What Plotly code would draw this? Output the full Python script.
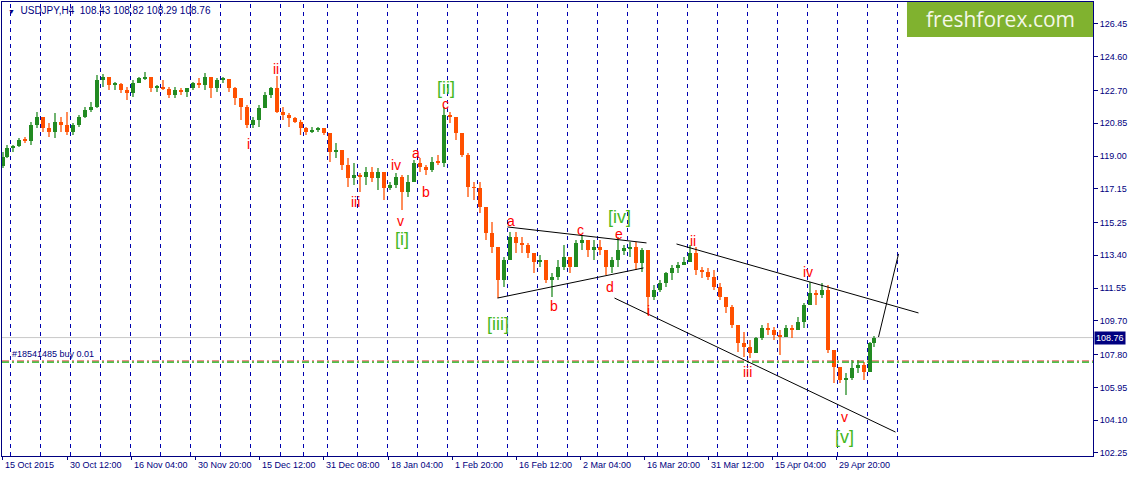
import pandas as pd
import plotly.graph_objects as go

# --- chart data (USDJPY H4, one candle per trading day) ---
SYMBOL = "USDJPY,H4"
LAST_OHLC = [108.43, 108.82, 108.29, 108.76]
ORDER_TEXT = "#18541485 buy 0.01"
ORDER_PRICE = 107.38
ORDER_PRICE_RED = 107.44

FIRST_BAR = "2015-10-15 16:00"
LAST_BAR = "2016-05-10 04:00"
FUTURE_END = "2016-05-20 20:00"
HOLIDAYS = ["2015-12-25", "2016-01-01"]
MISSING_BARS = ["2015-12-24 20:00"]

first_open = 118.45
day_high = [
    119.23, 119.62, 119.62, 120.02, 120.08, 120.92, 121.49, 121.20, 120.87, 121.43, 121.20, 121.49,
    120.87, 121.32, 121.77, 122.05, 123.57, 123.63, 123.46, 123.18, 123.12, 122.90, 123.29, 123.46,
    123.74, 123.46, 123.01, 123.29, 122.90, 122.90, 122.84, 122.84, 123.18,
    123.40, 123.69, 123.46, 123.40, 123.46, 123.29, 122.90, 122.28, 121.88, 121.20, 121.88, 122.61,
    122.90, 123.52, 121.77, 121.43, 121.20, 121.04, 120.64, 120.64, 120.64, 120.58,
    120.19, 119.74, 119.06, 118.89, 118.61, 118.04, 118.38, 118.38, 118.33, 117.76, 117.54, 118.04,
    117.93, 117.93, 118.78, 118.89, 118.50, 118.95, 119.06, 121.77,
    121.49, 121.20, 120.08, 119.17, 117.54, 117.54, 115.79, 115.28, 113.59, 113.31, 114.72, 114.72,
    114.44, 114.10, 113.42, 113.42, 112.74, 112.40, 113.14, 113.98, 113.31,
    114.27, 114.55, 114.27, 114.27, 114.27, 113.53, 113.31, 114.44, 113.98, 114.15, 114.15, 113.81,
    113.14, 111.73, 112.01, 112.46, 112.86, 113.02, 113.31, 113.98, 113.87, 112.74, 112.69,
    112.57, 111.84, 111.05, 110.60, 109.47, 109.08, 108.62, 108.79, 109.47, 109.58, 109.36, 109.19,
    109.47, 109.47, 109.92, 110.71, 111.90, 111.45, 111.84, 111.73, 107.89,
    107.10, 106.76, 107.50, 107.50, 107.38, 108.51, 108.85,
]
day_low = [
    118.33, 118.89, 119.23, 119.51, 119.74, 119.62, 120.58, 120.36, 120.08, 120.02, 120.36, 120.19,
    120.19, 120.64, 121.15, 121.49, 121.71, 122.90, 122.73, 122.73, 122.56, 122.16, 122.33, 123.12,
    123.29, 122.61, 122.61, 122.73, 122.28, 122.28, 122.45, 122.33, 122.73,
    122.84, 122.73, 122.28, 122.61, 123.12, 122.61, 121.88, 121.04, 120.58, 120.58, 120.64, 121.71,
    122.28, 121.43, 121.04, 120.64, 120.87, 120.19, 120.19, 120.30, 120.36, 120.19,
    118.67, 118.89, 118.21, 117.25, 117.37, 116.97, 117.37, 117.54, 117.09, 116.52, 117.09, 117.20,
    115.96, 116.69, 117.54, 118.10, 117.93, 118.10, 118.50, 118.38,
    120.87, 119.91, 118.95, 116.69, 116.52, 115.79, 114.27, 113.53, 110.99, 111.61, 113.53, 113.53,
    113.53, 113.25, 112.40, 112.74, 111.84, 111.05, 112.01, 112.57, 112.40,
    112.86, 113.70, 113.31, 113.14, 113.42, 112.29, 112.40, 112.74, 113.42, 113.31, 112.57, 112.46,
    110.04, 110.88, 111.33, 111.61, 112.01, 112.40, 112.86, 113.14, 112.29, 112.12, 112.01,
    111.45, 110.88, 110.15, 109.30, 107.95, 107.67, 107.61, 107.95, 108.62, 108.91, 108.62, 107.78,
    108.79, 108.74, 109.19, 109.30, 110.71, 110.60, 110.99, 107.89, 106.20,
    106.20, 105.52, 106.37, 106.76, 106.37, 107.21, 108.23,
]
day_close = [
    118.95, 119.46, 119.57, 119.91, 119.85, 120.75, 121.20, 120.58, 120.36, 120.92, 120.75, 120.36,
    120.75, 121.20, 121.60, 121.77, 123.29, 123.46, 123.01, 123.07, 122.73, 122.56, 123.12, 123.40,
    123.46, 122.84, 122.90, 122.80, 122.45, 122.73, 122.61, 122.84, 123.12,
    123.01, 123.46, 122.84, 123.29, 123.35, 122.84, 122.28, 121.77, 120.75, 121.04, 121.71, 122.45,
    122.84, 121.49, 121.32, 121.15, 120.92, 120.58, 120.36, 120.47, 120.58, 120.30,
    119.23, 119.34, 118.50, 117.76, 117.93, 117.82, 118.10, 117.76, 118.10, 117.20, 117.37, 117.82,
    116.97, 117.54, 118.61, 118.38, 118.21, 118.67, 118.61, 121.32,
    121.20, 120.30, 119.06, 117.25, 117.20, 116.13, 114.66, 113.87, 112.01, 113.14, 114.44, 114.10,
    113.98, 113.53, 113.02, 113.14, 112.01, 112.18, 112.74, 113.31, 112.74,
    114.10, 114.27, 113.70, 113.87, 113.70, 112.74, 113.14, 113.70, 113.81, 113.87, 112.97, 113.70,
    111.05, 111.45, 111.84, 112.40, 112.69, 112.86, 113.02, 113.53, 112.57, 112.46, 112.18,
    111.61, 111.05, 110.49, 109.47, 108.46, 108.23, 107.89, 108.74, 109.30, 109.19, 108.91, 108.79,
    109.30, 109.19, 109.64, 110.60, 111.28, 111.16, 111.45, 108.06, 107.10,
    106.37, 106.48, 107.05, 107.21, 106.82, 108.46, 108.76,
]

price_ticks = [126.45, 124.60, 122.70, 120.85, 119.00, 117.15, 115.25, 113.40,
               111.55, 109.70, 107.80, 105.95, 104.10, 102.25]

time_tick_labels = ["15 Oct 2015", "30 Oct 12:00", "16 Nov 04:00", "30 Nov 20:00", "15 Dec 12:00",
                    "31 Dec 08:00", "18 Jan 04:00", "1 Feb 20:00", "16 Feb 12:00", "2 Mar 04:00",
                    "16 Mar 20:00", "31 Mar 12:00", "15 Apr 04:00", "29 Apr 20:00"]
time_tick_times = ["2015-10-15 16:00", "2015-10-30 12:00", "2015-11-16 04:00", "2015-11-30 20:00",
                   "2015-12-15 12:00", "2015-12-31 08:00", "2016-01-18 04:00", "2016-02-01 20:00",
                   "2016-02-16 12:00", "2016-03-02 04:00", "2016-03-16 20:00", "2016-03-31 12:00",
                   "2016-04-15 04:00", "2016-04-29 20:00"]

# minor wave labels (red)
minor_text = ["i", "ii", "iii", "iv", "v", "a", "b", "c", "a", "b", "c", "d", "e",
              "i", "ii", "iii", "iv", "v"]
minor_time = ["2015-12-11 16:00", "2015-12-18 04:00", "2016-01-08 16:00", "2016-01-19 08:00",
              "2016-01-20 04:00", "2016-01-22 16:00", "2016-01-26 08:00", "2016-01-29 16:00",
              "2016-02-15 12:00", "2016-02-24 16:00", "2016-03-02 04:00", "2016-03-09 00:00",
              "2016-03-10 12:00", "2016-03-17 12:00", "2016-03-28 20:00", "2016-04-11 00:00",
              "2016-04-25 00:00", "2016-05-03 04:00"]
minor_price = [119.68, 123.91, 116.41, 118.50, 115.34, 119.17, 116.97, 121.94,
               115.34, 110.54, 114.83, 111.61, 114.60, 110.26, 114.21, 106.82, 112.46, 104.28]

# major wave labels (green)
major_text = ["[i]", "[ii]", "[iii]", "[iv]", "[v]"]
major_time = ["2016-01-20 08:00", "2016-01-29 16:00", "2016-02-11 08:00", "2016-03-10 16:00",
              "2016-05-03 04:00"]
major_price = [114.32, 122.84, 109.53, 115.56, 103.15]

# hand drawn trend lines: start time/price, end time/price
trend_t0 = ["2016-02-15 00:00", "2016-02-11 08:00", "2016-03-24 04:00", "2016-03-09 20:00", "2016-05-10 20:00"]
trend_p0 = [115.00, 110.99, 114.04, 110.99, 108.79]
trend_t1 = ["2016-03-17 04:00", "2016-03-16 16:00", "2016-05-19 12:00", "2016-05-13 16:00", "2016-05-16 04:00"]
trend_p1 = [114.10, 112.69, 110.15, 103.43, 113.48]

UP = "#228B22"
DOWN = "#FF5000"
NAVY = "#000080"
FONT = "Liberation Sans"


def h4_bars(start, end):
	days = pd.bdate_range(start[:10], end[:10])
	days = days[~days.isin(pd.to_datetime(HOLIDAYS))]
	skip = set(pd.to_datetime(MISSING_BARS))
	bars = [d + pd.Timedelta(hours=h) for d in days for h in range(0, 24, 4)]
	return [b for b in bars if pd.Timestamp(start) <= b <= pd.Timestamp(end) and b not in skip]


bars = h4_bars(FIRST_BAR, FUTURE_END)
pos = {b: i for i, b in enumerate(bars)}
data_bars = [b for b in bars if b <= pd.Timestamp(LAST_BAR)]


def bx(t):
	return pos[pd.Timestamp(t)]


# one candle per trading day, centred on its H4 bars
dfb = pd.DataFrame({"t": data_bars, "i": range(len(data_bars))})
centers = dfb.groupby(dfb["t"].dt.date)["i"].mean().tolist()
assert len(centers) == len(day_close)

day_open = [first_open] + day_close[:-1]
hi = [max(h, o, c) for h, o, c in zip(day_high, day_open, day_close)]
lo = [min(l, o, c) for l, o, c in zip(day_low, day_open, day_close)]
up = [c >= o for o, c in zip(day_open, day_close)]

fig = go.Figure()

for flag, col in [(True, UP), (False, DOWN)]:
	wx, wy = [], []
	for x, h, l, u in zip(centers, hi, lo, up):
		if u == flag:
			wx += [x, x, None]
			wy += [l, h, None]
	fig.add_trace(go.Scatter(x=wx, y=wy, mode="lines", line=dict(color=col, width=1.3),
		hoverinfo="skip", showlegend=False))

fig.add_trace(go.Bar(
	x=centers,
	y=[max(abs(c - o), 0.03) for o, c in zip(day_open, day_close)],
	base=[min(o, c) for o, c in zip(day_open, day_close)],
	width=4,
	marker=dict(color=[UP if u else DOWN for u in up], line=dict(width=0)),
	hoverinfo="skip", showlegend=False))

# weekly separators
for b in bars:
	if b.weekday() == 0 and b.hour == 0:
		fig.add_shape(type="line", x0=pos[b], x1=pos[b], yref="paper", y0=0, y1=1, layer="below",
			line=dict(color="#0000B0", width=1, dash="4px,4px"))

# bid line and order line
fig.add_shape(type="line", xref="paper", x0=0, x1=1, y0=LAST_OHLC[3], y1=LAST_OHLC[3], layer="below",
	line=dict(color="#C8C8C8", width=1))
fig.add_shape(type="line", xref="paper", x0=0, x1=1, y0=ORDER_PRICE_RED, y1=ORDER_PRICE_RED,
	line=dict(color="#E03030", width=1, dash="7px,3px,2px,3px"))
fig.add_shape(type="line", xref="paper", x0=0, x1=1, y0=ORDER_PRICE, y1=ORDER_PRICE,
	line=dict(color="#10B010", width=1.2, dash="7px,3px,2px,3px"))

for t0, p0, t1, p1 in zip(trend_t0, trend_p0, trend_t1, trend_p1):
	fig.add_shape(type="line", x0=bx(t0), y0=p0, x1=bx(t1), y1=p1, line=dict(color="black", width=1))

for txt, t, p in zip(minor_text, minor_time, minor_price):
	fig.add_annotation(x=bx(t), y=p, text=txt, showarrow=False,
		font=dict(family=FONT, size=14, color="#FF0000"))
for txt, t, p in zip(major_text, major_time, major_price):
	fig.add_annotation(x=bx(t), y=p, text=txt, showarrow=False,
		font=dict(family=FONT, size=18, color="#45B81E"))

# time labels sit to the right of their tick
for lab, t in zip(time_tick_labels, time_tick_times):
	fig.add_annotation(x=bx(t), y=0, yref="paper", text=lab, showarrow=False,
		xanchor="left", yanchor="top", yshift=-2, font=dict(family=FONT, size=9, color=NAVY))

title = "<span style='font-size:7px'>▼</span>  %s  %.2f %.2f %.2f %.2f" % tuple([SYMBOL] + LAST_OHLC)
fig.add_annotation(xref="paper", yref="paper", x=0.004, y=1, xanchor="left", yanchor="top", yshift=-1,
	text=title, showarrow=False, font=dict(family=FONT, size=10, color=NAVY))

fig.add_annotation(x=bx(FIRST_BAR) + 7, y=ORDER_PRICE_RED, xanchor="left", yanchor="bottom",
	text=ORDER_TEXT, showarrow=False, font=dict(family=FONT, size=9, color=NAVY))

fig.add_annotation(xref="paper", x=1, y=LAST_OHLC[3], xanchor="left", xshift=1, text="%.2f" % LAST_OHLC[3],
	showarrow=False, bgcolor=NAVY, borderpad=1, font=dict(family=FONT, size=9, color="white"))

# logo
fig.add_shape(type="rect", xref="paper", yref="paper", x0=0.8295, x1=1.0, y0=0.923, y1=1.0,
	fillcolor="#80B22F", line=dict(width=0))
fig.add_annotation(xref="paper", yref="paper", x=0.9148, y=0.9615, xanchor="center", yanchor="middle",
	text="freshforex.com", showarrow=False, font=dict(family="Open Sans", size=21, color="#F4F7E8"))

fig.update_layout(
	width=1133, height=477,
	margin=dict(l=2, r=40, t=2, b=21),
	paper_bgcolor="white", plot_bgcolor="white",
	showlegend=False, bargap=0,
	xaxis=dict(range=[-0.5, 1090.5], showgrid=False, zeroline=False, showline=True, mirror=True,
		linecolor=NAVY, linewidth=1, tickvals=[bx(t) for t in time_tick_times],
		ticktext=["" for t in time_tick_times], ticks="outside", ticklen=3, tickcolor=NAVY),
	yaxis=dict(range=[102.08, 127.69], side="right", showgrid=False, zeroline=False, showline=True,
		mirror=True, linecolor=NAVY, linewidth=1, tickvals=price_ticks,
		ticktext=["%.2f" % v for v in price_ticks], ticks="outside", ticklen=4, tickcolor=NAVY,
		tickfont=dict(family=FONT, size=9, color=NAVY)),
)

fig.write_html("out.html", config={"displayModeBar": False},
	post_script="document.body.style.margin='0';")
